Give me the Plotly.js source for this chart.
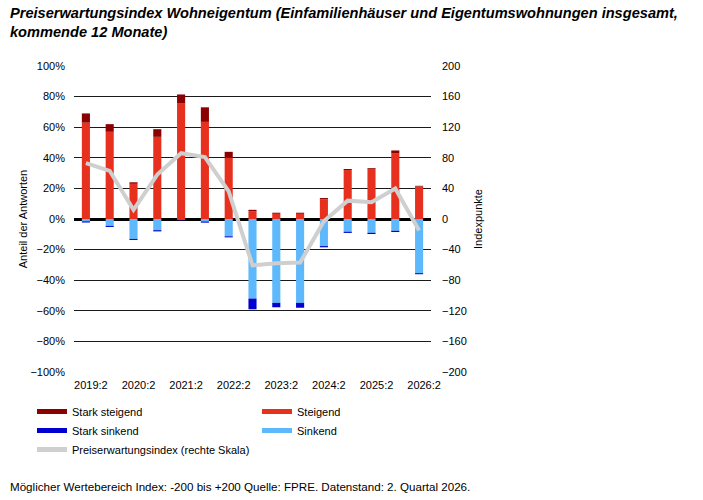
<!DOCTYPE html>
<html>
<head>
<meta charset="utf-8">
<script src="https://cdn.plot.ly/plotly-3.0.1.min.js"></script>
<style>
  html, body { margin: 0; padding: 0; background: #fff; }
  #chart { width: 703px; height: 500px; }
</style>
</head>
<body>
<div id="chart"></div>
<script>
// Halbjahreswerte, Anteil der Antworten in %
const quartale = ['2019:2', '2019:4', '2020:2', '2020:4', '2021:2', '2021:4', '2022:2', '2022:4',
  '2023:2', '2023:4', '2024:2', '2024:4', '2025:2', '2025:4', '2026:2'];
const tickQuartale = ['2019:2', '2020:2', '2021:2', '2022:2', '2023:2', '2024:2', '2025:2', '2026:2'];

const steigend = [63, 57, 23, 53.7, 75.4, 63.5, 40.2, 5, 3.4, 3.4, 12.9, 32, 32.8, 42.8, 21.2];
const starkSteigend = [6, 5, 1, 5, 6, 9.5, 3.7, 1, 0.7, 0.7, 0.8, 0.7, 0.5, 2, 0.5];
const sinkend = [-1.5, -4.5, -13, -7.3, -0.5, -1.6, -11.3, -52, -54.8, -54.8, -17.7, -8.3, -9, -7.7, -35.4];
const starkSinkend = [-0.8, -0.7, -0.7, -0.8, -0.4, -0.8, -0.7, -7, -2.9, -3.2, -0.8, -0.8, -0.8, -0.8, -0.7];

// Preiserwartungsindex (rechte Skala)
const index = [73, 63, 12, 58, 86, 81, 36, -60.5, -58, -57, -3, 24, 22, 40, -15];

const FONT = 'Arial, "Liberation Sans", sans-serif';
const colors = {
  starkSteigend: '#8b0000',
  steigend: '#e8301f',
  starkSinkend: '#0000d0',
  sinkend: '#5db8fc',
  index: '#cfcfcf'
};

// plot area in pixels: x 74..431, y 66..372
const px = x => (x - 74) / 357;
const py = y => (372 - y) / 306;

function barTrace(name, values, color) {
  return {
    type: 'bar', x: quartale, y: values, name: name,
    marker: { color: color, line: { width: 0 } },
    showlegend: false, hoverinfo: 'x+y+name'
  };
}

// legend entries drawn as thick lines like in the original
function legendTrace(name, color, legend) {
  return {
    type: 'scatter', mode: 'lines', x: [null], y: [null], name: name,
    line: { color: color, width: 5 }, legend: legend, hoverinfo: 'skip'
  };
}

const data = [
  barTrace('Steigend', steigend, colors.steigend),
  barTrace('Stark steigend', starkSteigend, colors.starkSteigend),
  barTrace('Sinkend', sinkend, colors.sinkend),
  barTrace('Stark sinkend', starkSinkend, colors.starkSinkend),
  {
    type: 'scatter', mode: 'lines', x: quartale, y: index, yaxis: 'y2',
    name: 'Preiserwartungsindex (rechte Skala)', showlegend: false,
    line: { color: colors.index, width: 4 }
  },
  legendTrace('Stark steigend', colors.starkSteigend, 'legend'),
  legendTrace('Stark sinkend', colors.starkSinkend, 'legend'),
  legendTrace('Preiserwartungsindex (rechte Skala)', colors.index, 'legend'),
  legendTrace('Steigend', colors.steigend, 'legend2'),
  legendTrace('Sinkend', colors.sinkend, 'legend2')
];

const legendBase = {
  orientation: 'v', yanchor: 'top', xanchor: 'left',
  font: { family: FONT, size: 11, color: '#000' },
  bgcolor: 'rgba(0,0,0,0)', borderwidth: 0, tracegroupgap: 0,
  itemclick: false, itemdoubleclick: false
};

const layout = {
  width: 703, height: 500,
  margin: { l: 74, r: 272, t: 66, b: 128 },
  paper_bgcolor: '#fff', plot_bgcolor: '#fff',
  font: { family: FONT, size: 11, color: '#000' },
  barmode: 'relative',
  bargap: 0.66,
  xaxis: {
    type: 'category', categoryorder: 'array', categoryarray: quartale,
    tickvals: tickQuartale, ticktext: tickQuartale,
    showgrid: false, showline: false, zeroline: false, ticks: '',
    ticklabelshift: 5, ticklabelstandoff: 5,
    tickfont: { family: FONT, size: 11 }
  },
  yaxis: {
    range: [-100, 100], dtick: 20, ticksuffix: '%',
    showgrid: true, gridcolor: '#1a1a1a', gridwidth: 1,
    zeroline: true, zerolinecolor: '#000', zerolinewidth: 3,
    showline: false, ticks: '', ticklabelstandoff: 8,
    tickfont: { family: FONT, size: 11 },
    title: { text: 'Anteil der Antworten', standoff: 0, font: { family: FONT, size: 11 } }
  },
  yaxis2: {
    overlaying: 'y', side: 'right',
    range: [-200, 200], dtick: 40,
    showgrid: false, zeroline: false, showline: false, ticks: '', ticklabelstandoff: 10,
    tickfont: { family: FONT, size: 11 },
    title: { text: 'Indexpunkte', standoff: 8, font: { family: FONT, size: 11 } }
  },
  legend: Object.assign({}, legendBase, { x: px(32), y: py(397) }),
  legend2: Object.assign({}, legendBase, { x: px(257), y: py(397) }),
  annotations: [
    {
      text: '<b><i>Preiserwartungsindex Wohneigentum (Einfamilienhäuser und Eigentumswohnungen insgesamt,<br>kommende 12 Monate)</i></b>',
      xref: 'paper', yref: 'paper', x: px(8), y: py(3),
      xanchor: 'left', yanchor: 'top', align: 'left', showarrow: false,
      font: { family: FONT, size: 14.6, color: '#000' }
    },
    {
      text: 'Möglicher Wertebereich Index: -200 bis +200 Quelle: FPRE. Datenstand: 2. Quartal 2026.',
      xref: 'paper', yref: 'paper', x: px(8), y: py(486),
      xanchor: 'left', yanchor: 'middle', showarrow: false,
      font: { family: FONT, size: 11.6, color: '#000' }
    }
  ]
};

Plotly.newPlot('chart', data, layout, { displayModeBar: false, staticPlot: true });
</script>
</body>
</html>
